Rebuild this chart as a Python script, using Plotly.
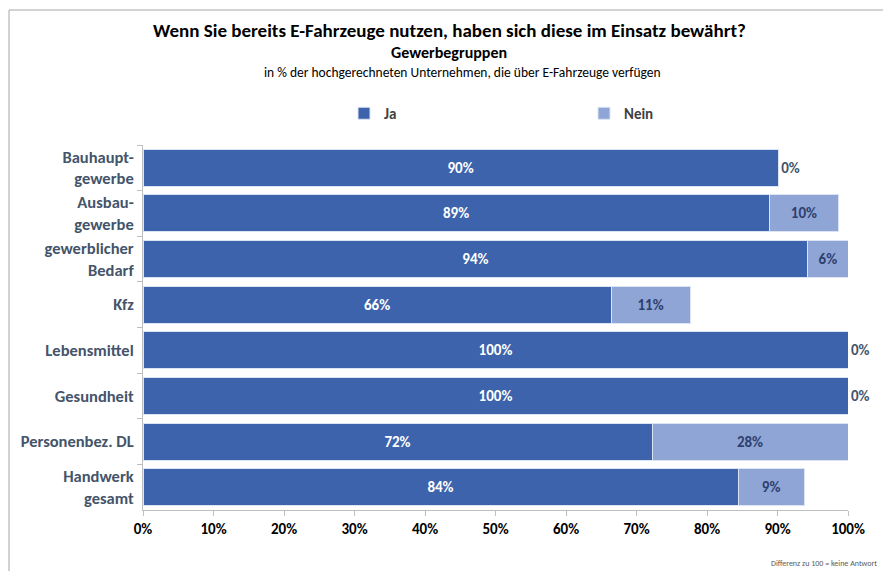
import plotly.graph_objects as go

categories = ["Bauhaupt-<br>gewerbe", "Ausbau-<br>gewerbe", "gewerblicher<br>Bedarf", "Kfz",
              "Lebensmittel", "Gesundheit", "Personenbez. DL", "Handwerk<br>gesamt"]
ja = [90.1, 88.8, 94.3, 66.4, 100, 100, 72.2, 84.4]
nein = [0, 9.9, 5.7, 11.2, 0, 0, 27.8, 9.4]
x_ticks = [0, 10, 20, 30, 40, 50, 60, 70, 80, 90, 100]

FONT = "Carlito, Lato, sans-serif"
C_JA = "#3C63AC"
C_NEIN = "#8FA5D6"
C_LABEL = "#44546A"

fig = go.Figure()
fig.add_trace(go.Bar(
    y=categories, x=ja, name="Ja", orientation="h",
    marker=dict(color=C_JA, line=dict(color="#DCE3F2", width=1)),
    text=[f"{round(v)}%" for v in ja], textposition="inside", insidetextanchor="middle",
    textfont=dict(color="white", size=15, family=FONT, weight="bold"),
    cliponaxis=False,
))
fig.add_trace(go.Bar(
    y=categories, x=nein, name="Nein", orientation="h",
    marker=dict(color=C_NEIN, line=dict(color="#DCE3F2", width=1)),
    text=[f"{round(v)}%" for v in nein],
    textposition=["outside" if v == 0 else "inside" for v in nein],
    insidetextanchor="middle",
    insidetextfont=dict(color="#2E3F6E", size=15, family=FONT, weight="bold"),
    outsidetextfont=dict(color=C_LABEL, size=15, family=FONT, weight="bold"),
    cliponaxis=False,
))

L, R, T, B = 143, 883 - 848, 145, 571 - 510
W, H = 883, 571
pw, ph = W - L - R, H - T - B

def px(x):
    return (x - L) / pw

def py(y):
    return (H - B - y) / ph

fig.update_layout(
    width=W, height=H,
    margin=dict(l=L, r=R, t=T, b=B, autoexpand=False),
    barmode="stack", bargap=0.19,
    plot_bgcolor="white", paper_bgcolor="white",
    font=dict(family=FONT, size=13, color=C_LABEL),
    showlegend=True,
    legend=dict(orientation="h", x=px(344), y=py(97), xanchor="left", yanchor="top",
                entrywidth=195, entrywidthmode="pixels",
                font=dict(size=15, color="#404040", family=FONT, weight="bold"),
                itemwidth=30, traceorder="normal", bgcolor="rgba(0,0,0,0)"),
    xaxis=dict(range=[0, 100], tickvals=x_ticks, ticktext=[f"{v}%" for v in x_ticks],
               showgrid=False, zeroline=False, showline=True, linecolor="#BFBFBF",
               ticks="outside", ticklen=5, tickcolor="#BFBFBF",
               tickfont=dict(size=15, color="black", family=FONT, weight="bold")),
    yaxis=dict(autorange="reversed", showgrid=False, showline=True, linecolor="#BFBFBF",
               ticks="outside", ticklen=5, tickcolor="#BFBFBF", tickson="boundaries",
               ticklabelstandoff=5,
               tickfont=dict(size=16.5, color=C_LABEL, family=FONT, weight="bold")),
    annotations=[
        dict(text="<b>Wenn Sie bereits E-Fahrzeuge nutzen, haben sich diese im Einsatz bewährt?</b>",
             xref="paper", yref="paper", x=px(449), y=py(31), xanchor="center", yanchor="middle",
             showarrow=False, font=dict(size=19, color="black", family=FONT)),
        dict(text="<b>Gewerbegruppen</b>",
             xref="paper", yref="paper", x=px(449), y=py(52), xanchor="center", yanchor="middle",
             showarrow=False, font=dict(size=16, color="black", family=FONT)),
        dict(text="in % der hochgerechneten Unternehmen, die über E-Fahrzeuge verfügen",
             xref="paper", yref="paper", x=px(462), y=py(73), xanchor="center", yanchor="middle",
             showarrow=False, font=dict(size=13.5, color="black", family=FONT)),
        dict(text="Differenz zu 100 = keine Antwort",
             xref="paper", yref="paper", x=px(879), y=py(563), xanchor="right", yanchor="middle",
             showarrow=False, font=dict(size=8, color="#595959", family=FONT)),
    ],
    shapes=[
        dict(type="line", xref="paper", yref="paper", x0=px(9), x1=px(890), y0=py(10), y1=py(10),
             line=dict(color="#A6A6A6", width=1)),
        dict(type="line", xref="paper", yref="paper", x0=px(9), x1=px(9), y0=py(10), y1=py(580),
             line=dict(color="#A6A6A6", width=1)),
    ],
)

fig.write_html("out.html", config={"displayModeBar": False},
               post_script="document.body.style.margin='0';")
